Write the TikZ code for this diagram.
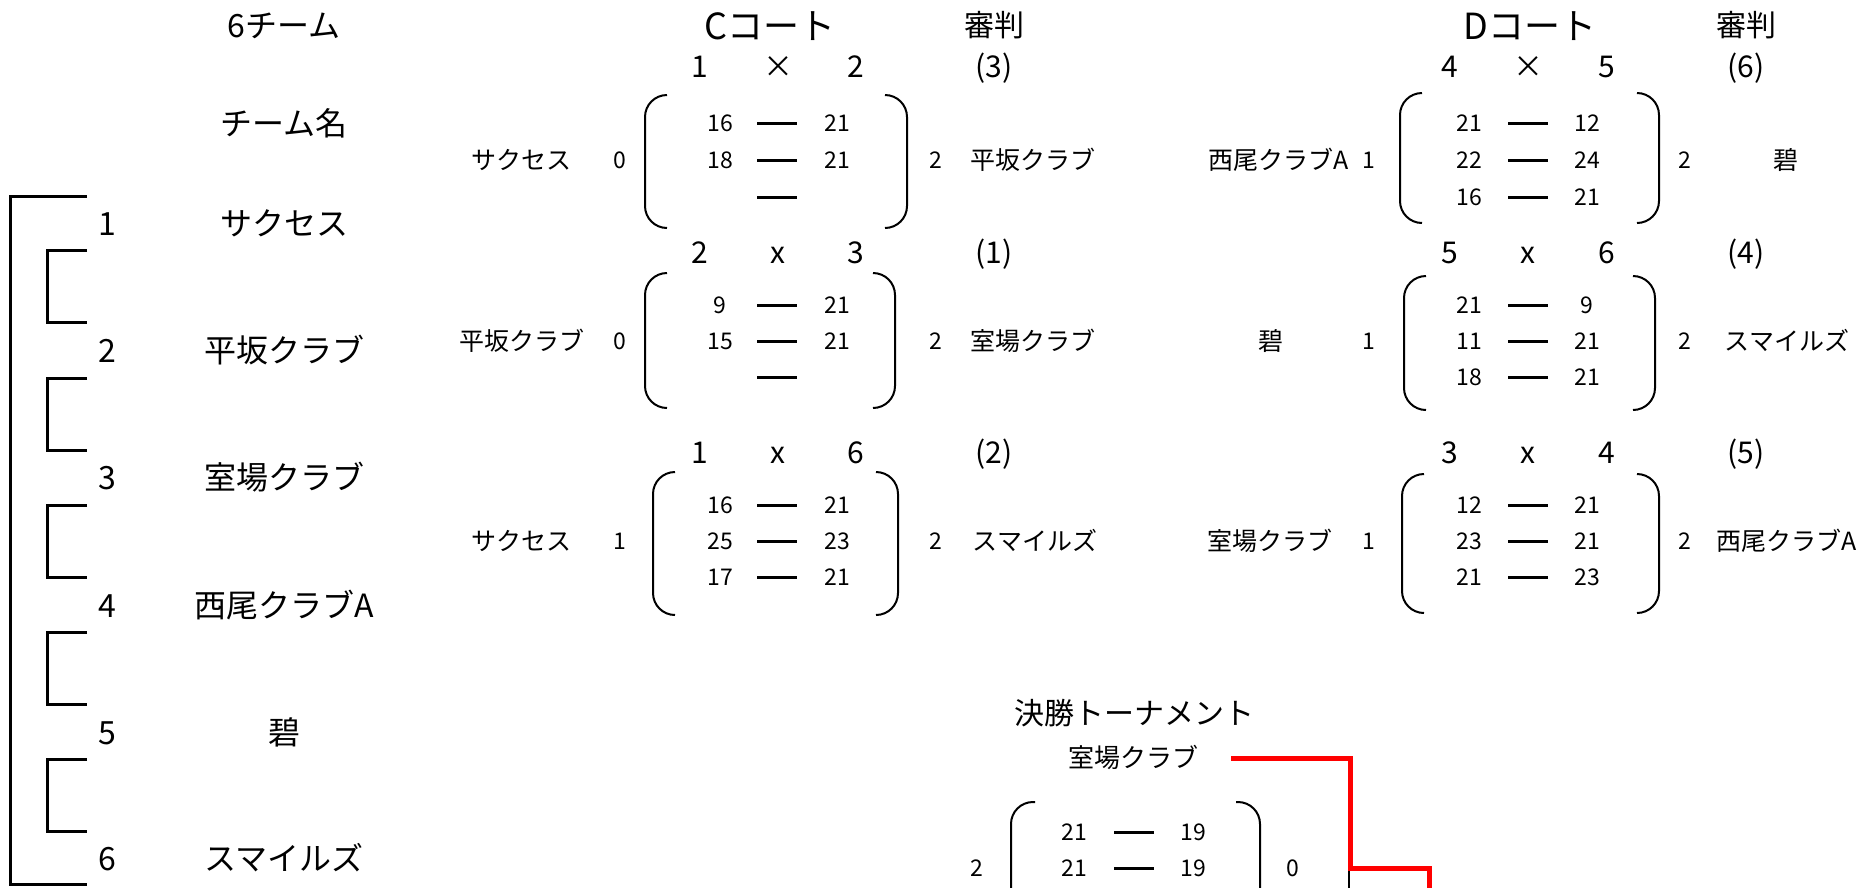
\documentclass[tikz,border=0pt]{standalone}
\usepackage{fontspec}
\setmainfont{Noto Sans CJK JP}

\begin{document}
\begin{tikzpicture}[x=1pt,y=-1pt,
  every node/.style={inner sep=0pt,text depth=0pt},
  lst/.style={font=\fontsize{32}{32}\selectfont,text height=24pt},
  ttl/.style={font=\fontsize{36}{36}\selectfont,text height=27pt},
  hd/.style={font=\fontsize{30}{30}\selectfont,text height=22.5pt},
  nm/.style={font=\fontsize{25}{25}\selectfont,text height=18.75pt},
  sc/.style={font=\fontsize{23}{23}\selectfont,text height=17.25pt},
  bar/.style={text height=3pt},
  paren/.style={line width=2pt,rounded corners=22pt},
  brk/.style={line width=3pt},
  win/.style={red,line width=5pt}]
\useasboundingbox (0,0) rectangle (1874,887);

% team list
\node[lst] (cnt) at (284,25) {6チーム};
\node[lst] (hdr) at (284,123) {チーム名};
\node[lst] (n1) at (107,223) {1}; \node[lst] (tm1) at (284,223) {サクセス};
\node[lst] (n2) at (107,350) {2}; \node[lst] (tm2) at (284,350) {平坂クラブ};
\node[lst] (n3) at (107,477) {3}; \node[lst] (tm3) at (284,477) {室場クラブ};
\node[lst] (n4) at (107,605) {4}; \node[lst] (tm4) at (284,605) {西尾クラブA};
\node[lst] (n5) at (107,732) {5}; \node[lst] (tm5) at (284,732) {碧};
\node[lst] (n6) at (107,858) {6}; \node[lst] (tm6) at (284,858) {スマイルズ};

\draw[brk] (87,196) -- (10,196) -- (10,884) -- (87,884);
\draw[brk] (87,250) -- (47,250) -- (47,322) -- (87,322);
\draw[brk] (87,378) -- (47,378) -- (47,450) -- (87,450);
\draw[brk] (87,505) -- (47,505) -- (47,577) -- (87,577);
\draw[brk] (87,632) -- (47,632) -- (47,704) -- (87,704);
\draw[brk] (87,759) -- (47,759) -- (47,831) -- (87,831);

% C court
\node[ttl] (cc) at (770,26) {Cコート};
\node[hd] (cref) at (994,25) {審判};

% 1 x 2
\node[hd] (c1a) at (700,66) {1}; \node[hd] (c1x) at (778,66) {×}; \node[hd] (c1b) at (856,66) {2};
\node[hd] (c1r) at (994,66) {(3)};
\node[nm] (c1l) at (521,160) {サクセス}; \node[sc] (c1lp) at (620,160) {0};
\node[sc] (c1rp) at (936,160) {2}; \node[nm] (c1rt) at (1033,160) {平坂クラブ};
\node[sc] (c1s1) at (720,123) {16}; \node[bar] (c1d1) at (777,123) {\rule{40pt}{3pt}}; \node[sc] (c1t1) at (837,123) {21};
\node[sc] (c1s2) at (720,160) {18}; \node[bar] (c1d2) at (777,160) {\rule{40pt}{3pt}}; \node[sc] (c1t2) at (837,160) {21};
\node[bar] (c1d3) at (777,197) {\rule{40pt}{3pt}};
\draw[paren] (667,95) -- (645,95) -- (645,228) -- (667,228);
\draw[paren] (885,95) -- (907,95) -- (907,228) -- (885,228);

% 2 x 3
\node[hd] (c2a) at (700,252) {2}; \node[hd] (c2x) at (778,252) {x}; \node[hd] (c2b) at (856,252) {3};
\node[hd] (c2r) at (994,252) {(1)};
\node[nm] (c2l) at (522,341) {平坂クラブ}; \node[sc] (c2lp) at (620,341) {0};
\node[sc] (c2rp) at (936,341) {2}; \node[nm] (c2rt) at (1033,341) {室場クラブ};
\node[sc] (c2s1) at (720,305) {9}; \node[bar] (c2d1) at (777,305) {\rule{40pt}{3pt}}; \node[sc] (c2t1) at (837,305) {21};
\node[sc] (c2s2) at (720,341) {15}; \node[bar] (c2d2) at (777,341) {\rule{40pt}{3pt}}; \node[sc] (c2t2) at (837,341) {21};
\node[bar] (c2d3) at (777,377) {\rule{40pt}{3pt}};
\draw[paren] (667,273) -- (645,273) -- (645,408) -- (667,408);
\draw[paren] (873,273) -- (895,273) -- (895,408) -- (873,408);

% 1 x 6
\node[hd] (c3a) at (700,452) {1}; \node[hd] (c3x) at (778,452) {x}; \node[hd] (c3b) at (856,452) {6};
\node[hd] (c3r) at (994,452) {(2)};
\node[nm] (c3l) at (521,541) {サクセス}; \node[sc] (c3lp) at (620,541) {1};
\node[sc] (c3rp) at (936,541) {2}; \node[nm] (c3rt) at (1035,541) {スマイルズ};
\node[sc] (c3s1) at (720,505) {16}; \node[bar] (c3d1) at (777,505) {\rule{40pt}{3pt}}; \node[sc] (c3t1) at (837,505) {21};
\node[sc] (c3s2) at (720,541) {25}; \node[bar] (c3d2) at (777,541) {\rule{40pt}{3pt}}; \node[sc] (c3t2) at (837,541) {23};
\node[sc] (c3s3) at (720,577) {17}; \node[bar] (c3d3) at (777,577) {\rule{40pt}{3pt}}; \node[sc] (c3t3) at (837,577) {21};
\draw[paren] (675,472) -- (653,472) -- (653,615) -- (675,615);
\draw[paren] (876,472) -- (898,472) -- (898,615) -- (876,615);

% D court
\node[ttl] (dc) at (1530,26) {Dコート};
\node[hd] (dref) at (1746,25) {審判};

% 4 x 5
\node[hd] (d1a) at (1450,66) {4}; \node[hd] (d1x) at (1528,66) {×}; \node[hd] (d1b) at (1607,66) {5};
\node[hd] (d1r) at (1746,66) {(6)};
\node[nm] (d1l) at (1279,160) {西尾クラブA}; \node[sc] (d1lp) at (1369,160) {1};
\node[sc] (d1rp) at (1685,160) {2}; \node[nm] (d1rt) at (1786,160) {碧};
\node[sc] (d1s1) at (1469,123) {21}; \node[bar] (d1d1) at (1528,123) {\rule{40pt}{3pt}}; \node[sc] (d1t1) at (1587,123) {12};
\node[sc] (d1s2) at (1469,160) {22}; \node[bar] (d1d2) at (1528,160) {\rule{40pt}{3pt}}; \node[sc] (d1t2) at (1587,160) {24};
\node[sc] (d1s3) at (1469,197) {16}; \node[bar] (d1d3) at (1528,197) {\rule{40pt}{3pt}}; \node[sc] (d1t3) at (1587,197) {21};
\draw[paren] (1422,93) -- (1400,93) -- (1400,223) -- (1422,223);
\draw[paren] (1637,93) -- (1659,93) -- (1659,223) -- (1637,223);

% 5 x 6
\node[hd] (d2a) at (1450,252) {5}; \node[hd] (d2x) at (1528,252) {x}; \node[hd] (d2b) at (1607,252) {6};
\node[hd] (d2r) at (1746,252) {(4)};
\node[nm] (d2l) at (1271,341) {碧}; \node[sc] (d2lp) at (1369,341) {1};
\node[sc] (d2rp) at (1685,341) {2}; \node[nm] (d2rt) at (1787,341) {スマイルズ};
\node[sc] (d2s1) at (1469,305) {21}; \node[bar] (d2d1) at (1528,305) {\rule{40pt}{3pt}}; \node[sc] (d2t1) at (1587,305) {9};
\node[sc] (d2s2) at (1469,341) {11}; \node[bar] (d2d2) at (1528,341) {\rule{40pt}{3pt}}; \node[sc] (d2t2) at (1587,341) {21};
\node[sc] (d2s3) at (1469,377) {18}; \node[bar] (d2d3) at (1528,377) {\rule{40pt}{3pt}}; \node[sc] (d2t3) at (1587,377) {21};
\draw[paren] (1426,276) -- (1404,276) -- (1404,410) -- (1426,410);
\draw[paren] (1633,276) -- (1655,276) -- (1655,410) -- (1633,410);

% 3 x 4
\node[hd] (d3a) at (1450,452) {3}; \node[hd] (d3x) at (1528,452) {x}; \node[hd] (d3b) at (1607,452) {4};
\node[hd] (d3r) at (1746,452) {(5)};
\node[nm] (d3l) at (1270,541) {室場クラブ}; \node[sc] (d3lp) at (1369,541) {1};
\node[sc] (d3rp) at (1685,541) {2}; \node[nm] (d3rt) at (1787,541) {西尾クラブA};
\node[sc] (d3s1) at (1469,505) {12}; \node[bar] (d3d1) at (1528,505) {\rule{40pt}{3pt}}; \node[sc] (d3t1) at (1587,505) {21};
\node[sc] (d3s2) at (1469,541) {23}; \node[bar] (d3d2) at (1528,541) {\rule{40pt}{3pt}}; \node[sc] (d3t2) at (1587,541) {21};
\node[sc] (d3s3) at (1469,577) {21}; \node[bar] (d3d3) at (1528,577) {\rule{40pt}{3pt}}; \node[sc] (d3t3) at (1587,577) {23};
\draw[paren] (1424,474) -- (1402,474) -- (1402,613) -- (1424,613);
\draw[paren] (1637,474) -- (1659,474) -- (1659,613) -- (1637,613);

% final
\node[hd] (fh) at (1134,713) {決勝トーナメント};
\node[font=\fontsize{26}{26}\selectfont,text height=19.5pt] (fin) at (1133,758) {室場クラブ};
\node[sc] (flp) at (977,868) {2}; \node[sc] (frp) at (1293,868) {0};
\node[sc] (fs1) at (1074,832) {21}; \node[bar] (fd1) at (1134,832) {\rule{40pt}{3pt}}; \node[sc] (ft1) at (1193,832) {19};
\node[sc] (fs2) at (1074,868) {21}; \node[bar] (fd2) at (1134,868) {\rule{40pt}{3pt}}; \node[sc] (ft2) at (1193,868) {19};
\draw[paren] (1035,802) -- (1011,802) -- (1011,900);
\draw[paren] (1236,802) -- (1260,802) -- (1260,900);

\coordinate (w0) at (1231,758);
\coordinate (w1) at (1429,895);
\coordinate (b0) at (1349,870);
\coordinate (b1) at (1349,895);
\draw[line width=2pt] (b0) -- (b1);
\draw[win] (w0) -| (1350,868) -| (w1);
\end{tikzpicture}
\end{document}
